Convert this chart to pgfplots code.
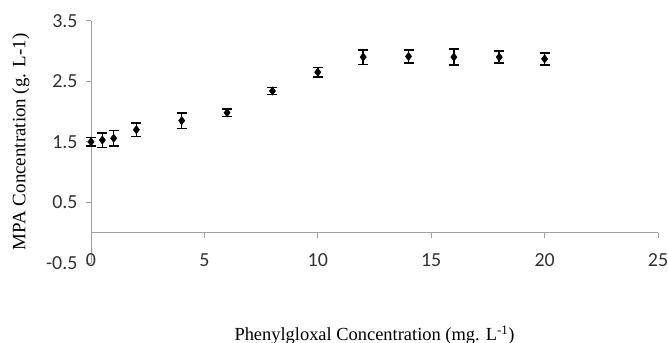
\documentclass[border=0pt]{standalone}
\usepackage{fontspec}
\setmainfont{Liberation Serif}
\newfontfamily\tickfont{Carlito}
\usepackage{pgfplots}
\pgfplotsset{compat=1.18}
\definecolor{axisgray}{RGB}{160,160,160}
\begin{document}
\begin{tikzpicture}
\begin{axis}[
  scale only axis, width=567bp, height=242.3bp,
  xmin=0, xmax=25, ymin=-0.5, ymax=3.5,
  axis x line*=middle, axis y line*=left,
  xtick={0,5,10,15,20,25}, xticklabels={0,5,10,15,20,25},
  ytick={-0.5,0.5,1.5,2.5,3.5}, yticklabels={-0.5,0.5,1.5,2.5,3.5},
  hide obscured x ticks=false, hide obscured y ticks=false,
  tick align=outside, major tick length=5bp,
  axis line style={draw=axisgray, line width=0.8bp},
  tick style={draw=axisgray, line width=0.8bp},
  ticklabel style={font=\tickfont\fontsize{20}{20}\selectfont, text=black!80},
  xticklabel style={yshift=-12bp},
  yticklabel style={xshift=-5bp},
  every axis y label/.style={at={(axis description cs:-0.1235,0.5)}, rotate=90, anchor=center, font=\fontsize{19}{19}\selectfont},
  every axis x label/.style={at={(axis description cs:0.5,0)}, anchor=center, yshift=-72bp, font=\fontsize{18.5}{18.5}\selectfont},
  ylabel={MPA Concentration (g. L-1)},
  xlabel={Phenylgloxal Concentration (mg. L\textsuperscript{-1})},
  clip=false,
]
\coordinate (sw) at (rel axis cs:0,0);
\coordinate (ne) at (rel axis cs:1,1);
\addplot[only marks, mark=diamond*, mark size=4.2bp, black,
  error bars/.cd, y dir=both, y explicit,
  error bar style={line width=1.5bp, black},
  error mark options={rotate=90, mark size=5bp, line width=1.5bp, black}]
  table[x=x, y=y, y error=e] {
x y e
0 1.50 0.07
0.5 1.53 0.12
1 1.56 0.13
2 1.70 0.11
4 1.85 0.13
6 1.98 0.06
8 2.34 0.06
10 2.65 0.08
12 2.90 0.12
14 2.91 0.11
16 2.90 0.13
18 2.90 0.10
20 2.87 0.10
};
\end{axis}
\pgfresetboundingbox
\path ([shift={(-91bp,-80bp)}]sw) rectangle ([shift={(10bp,20.7bp)}]ne);
\end{tikzpicture}
\end{document}
